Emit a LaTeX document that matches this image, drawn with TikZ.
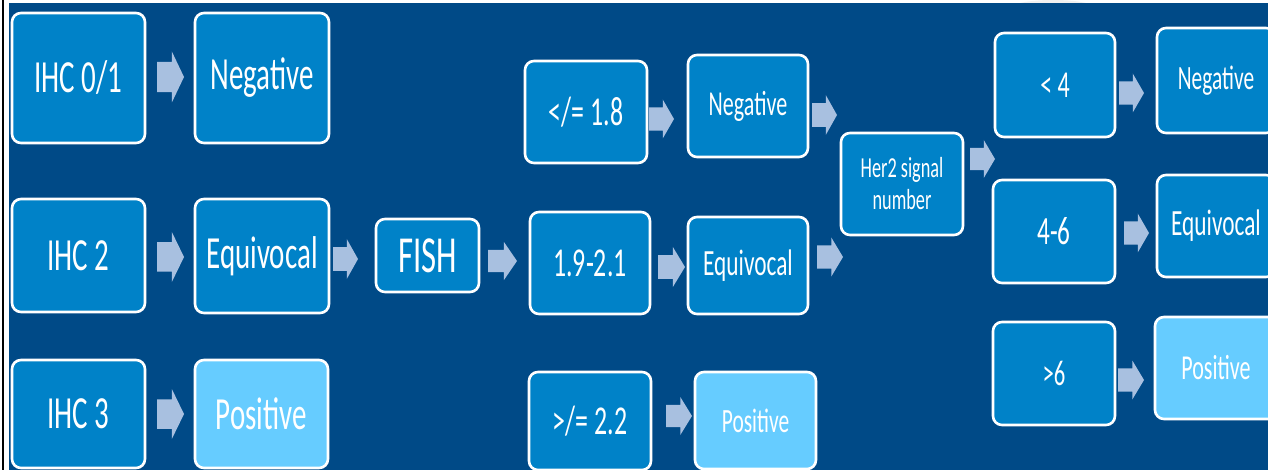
\documentclass[tikz,border=0pt]{standalone}
\usepackage{fontspec}
\setmainfont{Carlito}[FakeStretch=0.63]
\definecolor{bgblue}{RGB}{0,74,135}
\definecolor{boxblue}{RGB}{0,130,200}
\definecolor{lightbox}{RGB}{102,204,255}
\definecolor{arrowfill}{RGB}{168,192,224}
\tikzset{
  card/.style={draw=white, line width=2.6pt, rounded corners=9pt, fill=boxblue,
    text=white, inner sep=0pt, align=center},
  lightcard/.style={card, fill=lightbox},
  fsz/.style={font={\fontsize{#1}{#1}\selectfont}},
}
\newcommand\bx[8]{%
  \node[#6, fsz=#7, minimum width={(#4-#2)*1pt}, minimum height={(#5-#3)*1pt}]
    (#1) at ({(#2+#4)/2},{(#3+#5)/2}) {#8};}
\newcommand\barrow[4]{%
  \fill[arrowfill] (#1,{#3-0.295*#4}) -- ({#1+0.55*(#2-#1)},{#3-0.295*#4})
    -- ({#1+0.55*(#2-#1)},{#3-0.5*#4}) -- (#2,#3)
    -- ({#1+0.55*(#2-#1)},{#3+0.5*#4}) -- ({#1+0.55*(#2-#1)},{#3+0.295*#4})
    -- (#1,{#3+0.295*#4}) -- cycle;}
\begin{document}
\begin{tikzpicture}[x=1pt,y=-1pt]
\useasboundingbox (0,0) rectangle (1268,470);
\clip (0,0) rectangle (1268,470);
\fill[white] (0,0) rectangle (1268,470);
\fill[gray!12] (1053,8) ellipse [x radius=42, y radius=8];
\fill[black] (2,0) rectangle (3.6,470);
\fill[bgblue] (9,3) rectangle (1268,470);
% column 1
\bx{ihc01}{12}{13}{145}{143}{card}{46}{IHC 0/1}
\bx{ihc2}{12}{199}{145}{312}{card}{46}{IHC 2}
\bx{ihc3}{12}{360}{145}{468}{card}{46}{IHC 3}
% column 2
\bx{negA}{195}{13}{329}{143}{card}{46}{Negative}
\bx{eqA}{195}{199}{329}{313}{card}{46}{Equivocal}
\bx{posA}{195}{360}{328}{468}{lightcard}{46}{Positive}
% FISH
\bx{fish}{376}{219}{479}{292}{card}{52}{FISH}
% column 3
\bx{le}{525}{61}{647}{163}{card}{41}{</= 1.8}
\bx{mid}{530}{212}{650}{314}{card}{41}{1.9-2.1}
\bx{ge}{529}{372}{651}{470}{card}{41}{>/= 2.2}
% column 4
\bx{negB}{688}{55}{808}{157}{card}{35}{Negative}
\bx{eqB}{688}{217}{808}{314}{card}{37}{Equivocal}
\bx{posB}{695}{372}{816}{469}{lightcard}{34}{Positive}
% Her2
\node[card, font={\fontsize{29}{32}\selectfont}, minimum width=122pt, minimum height=102pt]
  (her) at (902,184) {Her2 signal\\number};
% column 5
\bx{lt4}{995}{33}{1115}{137}{card}{38}{< 4}
\bx{r46}{993}{180}{1115}{283}{card}{40}{4-6}
\bx{gt6}{993}{322}{1115}{425}{card}{36}{>6}
% column 6
\bx{negC}{1157}{28}{1275}{133}{card}{34}{Negative}
\bx{eqC}{1157}{175}{1275}{277}{card}{37}{Equivocal}
\bx{posC}{1155}{317}{1277}{419}{lightcard}{35}{Positive}
% block arrows
\barrow{157}{184}{77}{51}
\barrow{157}{184}{257}{50}
\barrow{157}{184}{414}{50}
\barrow{333}{358}{259}{40}
\barrow{488}{517}{261}{38}
\barrow{649}{674}{119}{39}
\barrow{658}{685}{267}{40}
\barrow{666}{692}{416}{38}
\barrow{812}{837}{115}{40}
\barrow{817}{843}{257}{39}
\barrow{970}{995}{159}{38}
\barrow{1119}{1144}{93}{39}
\barrow{1124}{1149}{233}{39}
\barrow{1118}{1144}{380}{39}
\end{tikzpicture}
\end{document}
